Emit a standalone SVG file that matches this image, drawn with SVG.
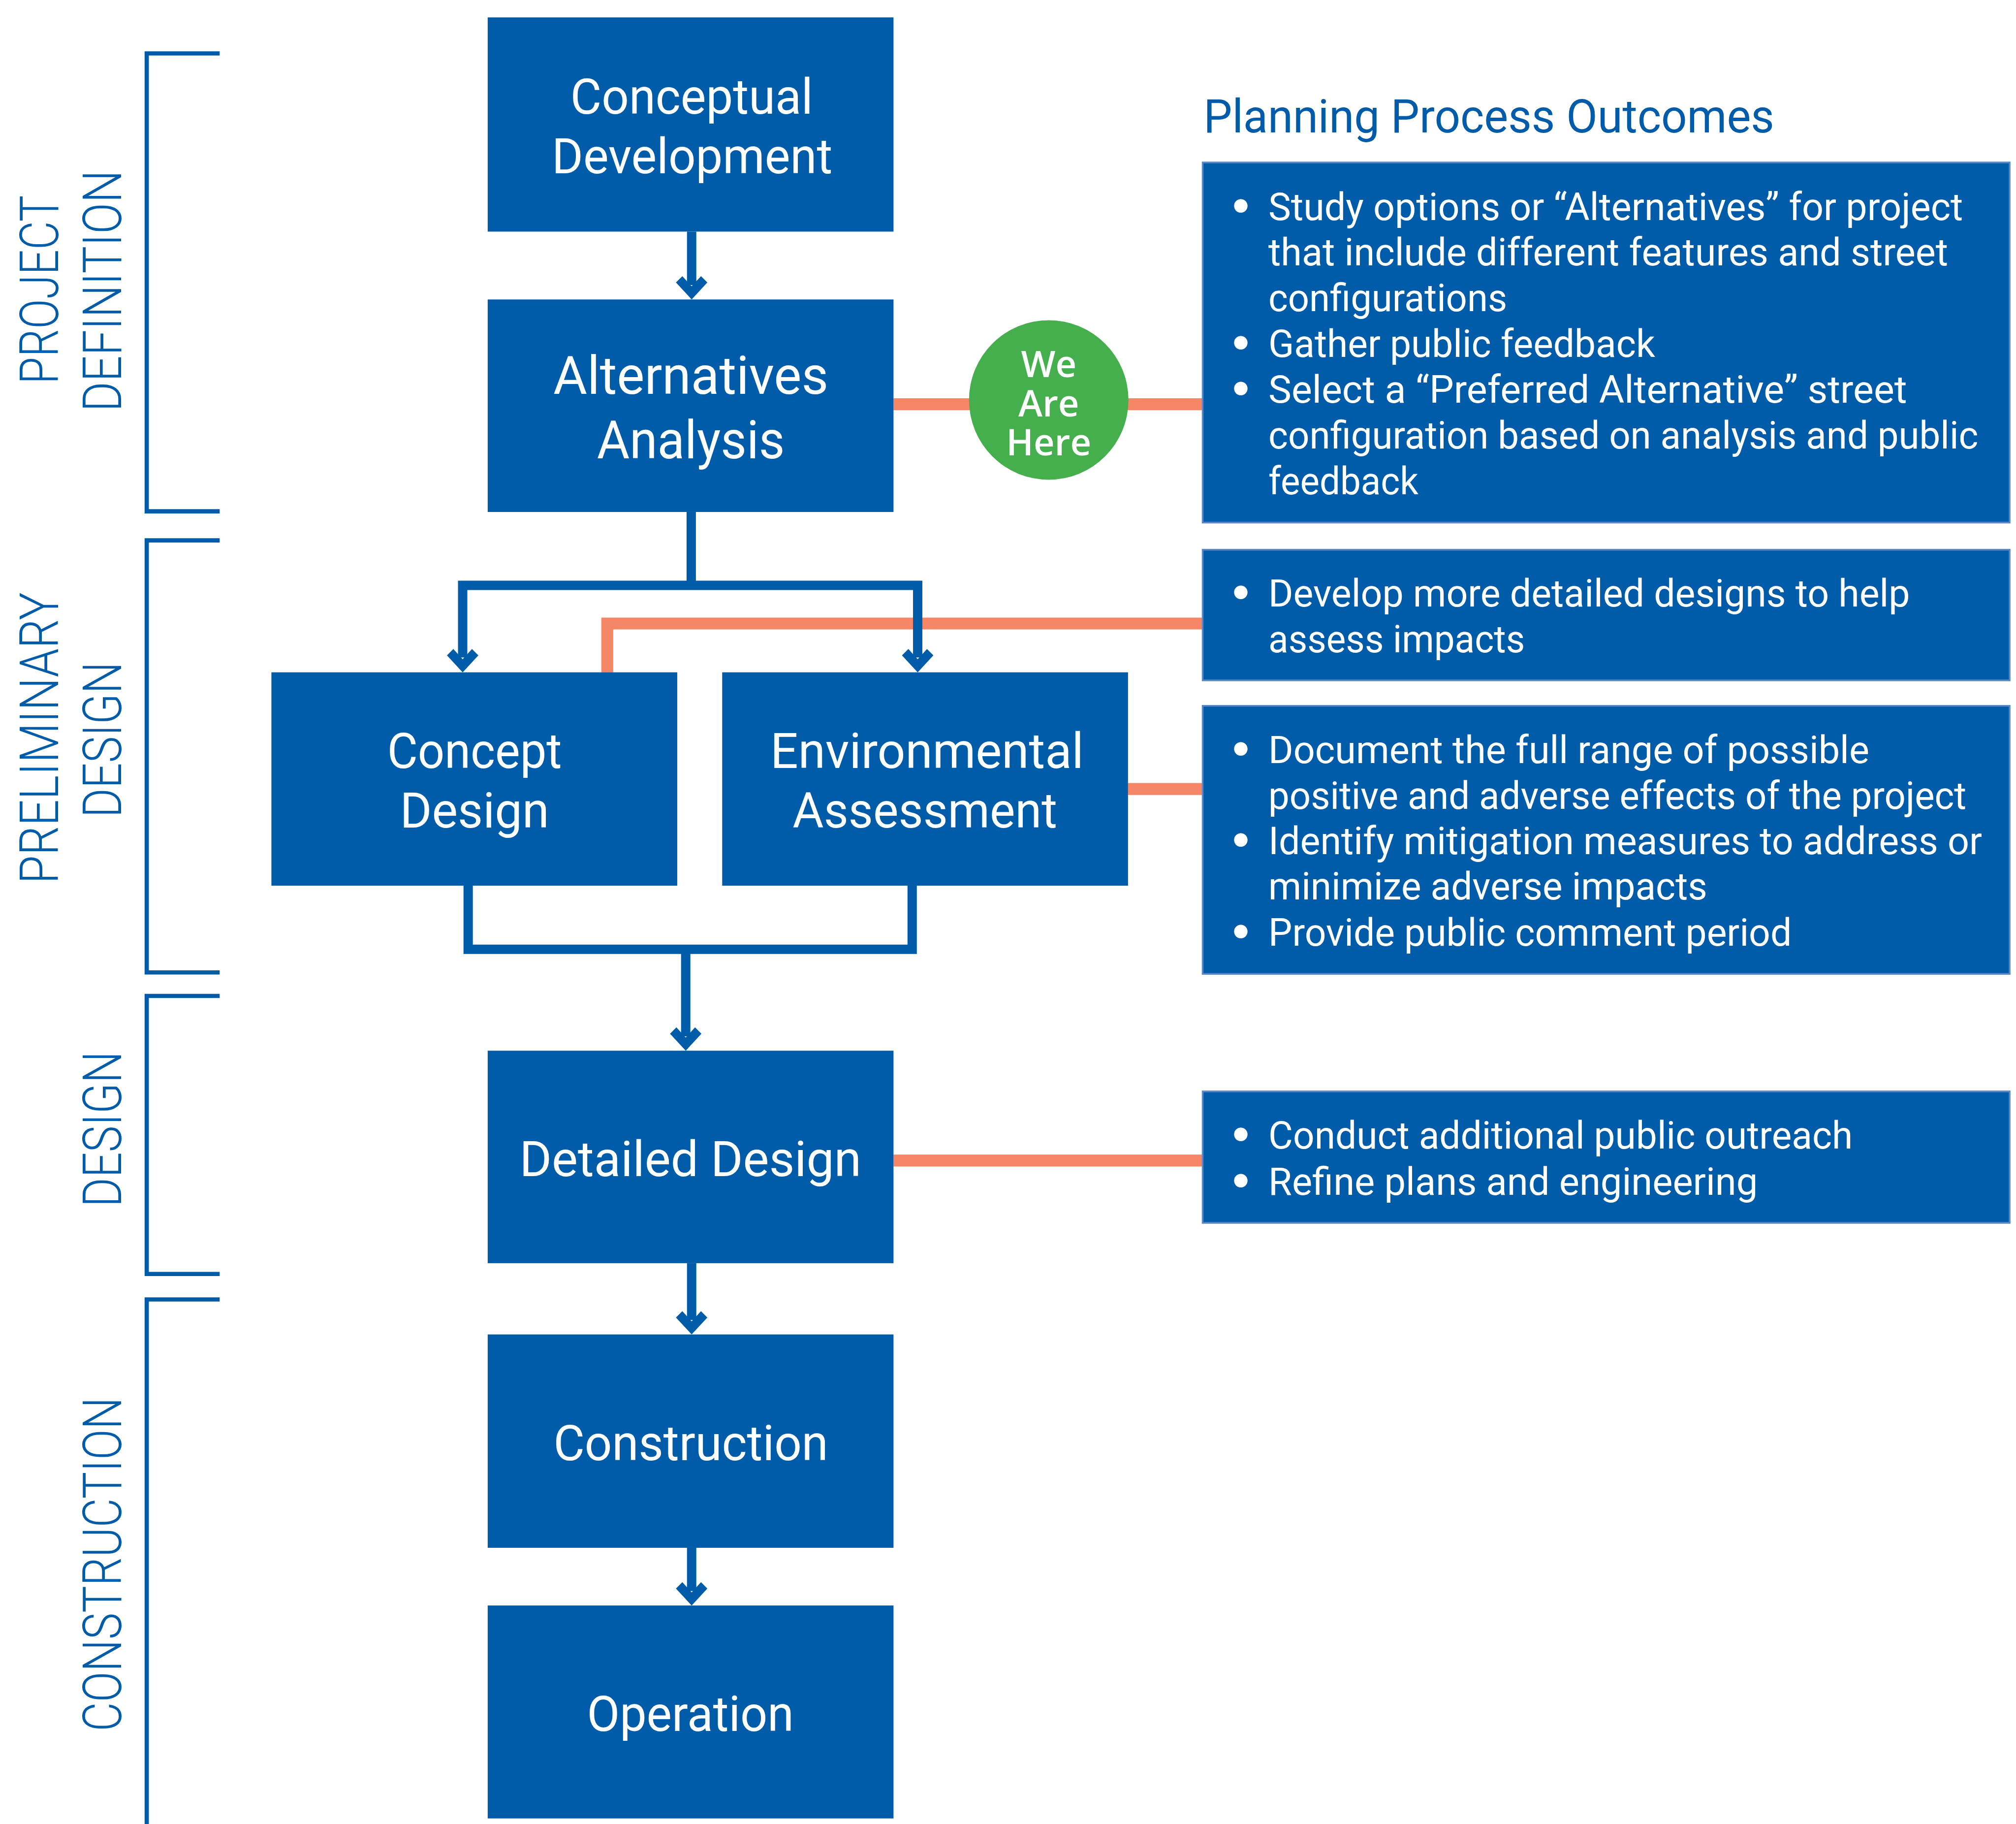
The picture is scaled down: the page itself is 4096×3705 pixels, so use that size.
<svg xmlns="http://www.w3.org/2000/svg" width="4096" height="3705" viewBox="0 0 4096 3705">
  <defs>
    <style>
      .node rect { fill: #005CA8; }
      .lbl { font-family: Roboto, "Liberation Sans", sans-serif; fill: #ffffff; font-size: 116px; text-anchor: middle; }
      .lbl.big { font-size: 125px; }
      .out rect { fill: #005CA8; stroke: #5A88C6; stroke-width: 4; }
      .out text { font-family: Roboto, "Liberation Sans", sans-serif; fill: #ffffff; font-size: 90px; }
      .out text.dot { font-family: "DejaVu Sans", sans-serif; font-weight: 700; text-anchor: middle; }
      .title { font-family: Roboto, "Liberation Sans", sans-serif; fill: #005CA8; font-size: 110px; }
      .phase { font-family: Roboto, "Liberation Sans", sans-serif; font-weight: 300; fill: #005CA8; font-size: 126px; text-anchor: middle; }
      .bracket { fill: none; stroke: #005CA8; stroke-width: 10; }
      .flow { fill: none; stroke: #005CA8; stroke-width: 22; }
      .link { fill: none; stroke: #F58767; stroke-width: 28; }
      .here text { font-family: "Open Sans", "Noto Sans", sans-serif; font-weight: 600; fill: #ffffff; font-size: 86px; text-anchor: middle; }
    </style>
    <path id="head" d="M-37,-40 L-22,-55 L0,-31 L22,-55 L37,-40 L0,0 Z" fill="#005CA8"/>
  </defs>
  <rect width="4096" height="3705" fill="#ffffff"/>
  <g transform="scale(0.8616)">
    <!-- phase brackets and vertical labels -->
    <g id="phases">
      <path class="bracket" d="M518,126 H346 V1205.5 H518"/>
      <path class="bracket" d="M518,1274 H346 V2292.5 H518"/>
      <path class="bracket" d="M518,2348 H346 V3003.5 H518"/>
      <path class="bracket" d="M518,3063.5 H346 V4310"/>
      <text class="phase" transform="translate(137,683) rotate(-90)" textLength="445" lengthAdjust="spacingAndGlyphs">PROJECT</text>
      <text class="phase" transform="translate(286,686) rotate(-90)" textLength="569" lengthAdjust="spacingAndGlyphs">DEFINITION</text>
      <text class="phase" transform="translate(137,1740) rotate(-90)" textLength="687" lengthAdjust="spacingAndGlyphs">PRELIMINARY</text>
      <text class="phase" transform="translate(286,1744) rotate(-90)" textLength="367" lengthAdjust="spacingAndGlyphs">DESIGN</text>
      <text class="phase" transform="translate(286,2662) rotate(-90)" textLength="367" lengthAdjust="spacingAndGlyphs">DESIGN</text>
      <text class="phase" transform="translate(286,3688) rotate(-90)" textLength="788" lengthAdjust="spacingAndGlyphs">CONSTRUCTION</text>
    </g>

    <!-- connectors: orange outcome links below, blue flow arrows above -->
    <g id="connectors">
      <path class="link" d="M2107,953 H2836"/>
      <path class="link" d="M1432,1585 V1470 H2836" stroke-width="27"/>
      <path class="link" d="M2660,1860 H2836"/>
      <path class="link" d="M2107,2736 H2836"/>

      <path class="flow" d="M1631,546 V672"/>
      <use href="#head" x="1631" y="706"/>

      <path class="flow" d="M1630,1207 V1380"/>
      <path class="flow" d="M1091,1550 V1380 H2164 V1550" stroke-width="21"/>
      <use href="#head" x="1091" y="1585"/>
      <use href="#head" x="2164" y="1585"/>

      <path class="flow" d="M1104,2088 V2238 H2151 V2088" stroke-width="21"/>
      <path class="flow" d="M1617,2238 V2443" stroke-width="21"/>
      <use href="#head" x="1617" y="2477"/>

      <path class="flow" d="M1631,2978 V3112"/>
      <use href="#head" x="1631" y="3146"/>

      <path class="flow" d="M1631,3649 V3751"/>
      <use href="#head" x="1631" y="3785"/>
    </g>

    <!-- process nodes -->
    <g id="conceptual-development" class="node">
      <rect x="1150" y="41" width="957" height="505"/>
      <text class="lbl" x="1631" y="268" textLength="572" lengthAdjust="spacingAndGlyphs">Conceptual</text>
      <text class="lbl" x="1632" y="408" textLength="662" lengthAdjust="spacingAndGlyphs">Development</text>
    </g>
    <g id="alternatives-analysis" class="node">
      <rect x="1150" y="706" width="957" height="501"/>
      <text class="lbl big" x="1629" y="929" textLength="649" lengthAdjust="spacingAndGlyphs">Alternatives</text>
      <text class="lbl big" x="1629" y="1080" textLength="443" lengthAdjust="spacingAndGlyphs">Analysis</text>
    </g>
    <g id="concept-design" class="node">
      <rect x="640" y="1585" width="957" height="503"/>
      <text class="lbl" x="1119" y="1811" textLength="412" lengthAdjust="spacingAndGlyphs">Concept</text>
      <text class="lbl" x="1119" y="1951" textLength="352" lengthAdjust="spacingAndGlyphs">Design</text>
    </g>
    <g id="environmental-assessment" class="node">
      <rect x="1703" y="1585" width="957" height="503"/>
      <text class="lbl" x="2186" y="1811" textLength="739" lengthAdjust="spacingAndGlyphs">Environmental</text>
      <text class="lbl" x="2181" y="1951" textLength="624" lengthAdjust="spacingAndGlyphs">Assessment</text>
    </g>
    <g id="detailed-design" class="node">
      <rect x="1150" y="2477" width="957" height="501"/>
      <text class="lbl" x="1628" y="2773" textLength="806" lengthAdjust="spacingAndGlyphs">Detailed Design</text>
    </g>
    <g id="construction" class="node">
      <rect x="1150" y="3146" width="957" height="503"/>
      <text class="lbl" x="1629" y="3442" textLength="648" lengthAdjust="spacingAndGlyphs">Construction</text>
    </g>
    <g id="operation" class="node">
      <rect x="1150" y="3785" width="957" height="502"/>
      <text class="lbl" x="1628" y="4081" textLength="488" lengthAdjust="spacingAndGlyphs">Operation</text>
    </g>

    <!-- current stage marker -->
    <g id="we-are-here" class="here">
      <circle cx="2473" cy="943" r="188" fill="#44AF4C"/>
      <text x="2473" y="889">We<tspan x="2473" dy="93">Are</tspan><tspan x="2473" dy="92">Here</tspan></text>
    </g>

    <!-- outcomes column -->
    <text id="outcomes-title" class="title" x="2838" y="312" textLength="1346" lengthAdjust="spacingAndGlyphs">Planning Process Outcomes</text>

    <g id="outcomes-alternatives" class="out">
      <rect x="2836" y="383" width="1903" height="849"/>
      <text class="dot" x="2926" y="519">•</text>
      <text x="2991" y="519" textLength="1638" lengthAdjust="spacingAndGlyphs">Study options or “Alternatives” for project</text>
      <text x="2991" y="626" textLength="1603" lengthAdjust="spacingAndGlyphs">that include different features and street</text>
      <text x="2991" y="733" textLength="563" lengthAdjust="spacingAndGlyphs">configurations</text>
      <text class="dot" x="2926" y="841">•</text>
      <text x="2991" y="841" textLength="912" lengthAdjust="spacingAndGlyphs">Gather public feedback</text>
      <text class="dot" x="2926" y="949">•</text>
      <text x="2991" y="949" textLength="1506" lengthAdjust="spacingAndGlyphs">Select a “Preferred Alternative” street</text>
      <text x="2991" y="1057" textLength="1674" lengthAdjust="spacingAndGlyphs">configuration based on analysis and public</text>
      <text x="2991" y="1165" textLength="354" lengthAdjust="spacingAndGlyphs">feedback</text>
    </g>

    <g id="outcomes-concept" class="out">
      <rect x="2836" y="1296" width="1903" height="308"/>
      <text class="dot" x="2926" y="1430">•</text>
      <text x="2991" y="1430" textLength="1513" lengthAdjust="spacingAndGlyphs">Develop more detailed designs to help</text>
      <text x="2991" y="1538" textLength="605" lengthAdjust="spacingAndGlyphs">assess impacts</text>
    </g>

    <g id="outcomes-environmental" class="out">
      <rect x="2836" y="1664" width="1903" height="632"/>
      <text class="dot" x="2926" y="1799">•</text>
      <text x="2991" y="1799" textLength="1417" lengthAdjust="spacingAndGlyphs">Document the full range of possible</text>
      <text x="2991" y="1907" textLength="1646" lengthAdjust="spacingAndGlyphs">positive and adverse effects of the project</text>
      <text class="dot" x="2926" y="2014">•</text>
      <text x="2991" y="2014" textLength="1683" lengthAdjust="spacingAndGlyphs">Identify mitigation measures to address or</text>
      <text x="2991" y="2121" textLength="1035" lengthAdjust="spacingAndGlyphs">minimize adverse impacts</text>
      <text class="dot" x="2926" y="2229">•</text>
      <text x="2991" y="2229" textLength="1234" lengthAdjust="spacingAndGlyphs">Provide public comment period</text>
    </g>

    <g id="outcomes-detailed" class="out">
      <rect x="2836" y="2573" width="1903" height="310"/>
      <text class="dot" x="2926" y="2708">•</text>
      <text x="2991" y="2708" textLength="1378" lengthAdjust="spacingAndGlyphs">Conduct additional public outreach</text>
      <text class="dot" x="2926" y="2817">•</text>
      <text x="2991" y="2817" textLength="1154" lengthAdjust="spacingAndGlyphs">Refine plans and engineering</text>
    </g>
  </g>
</svg>
